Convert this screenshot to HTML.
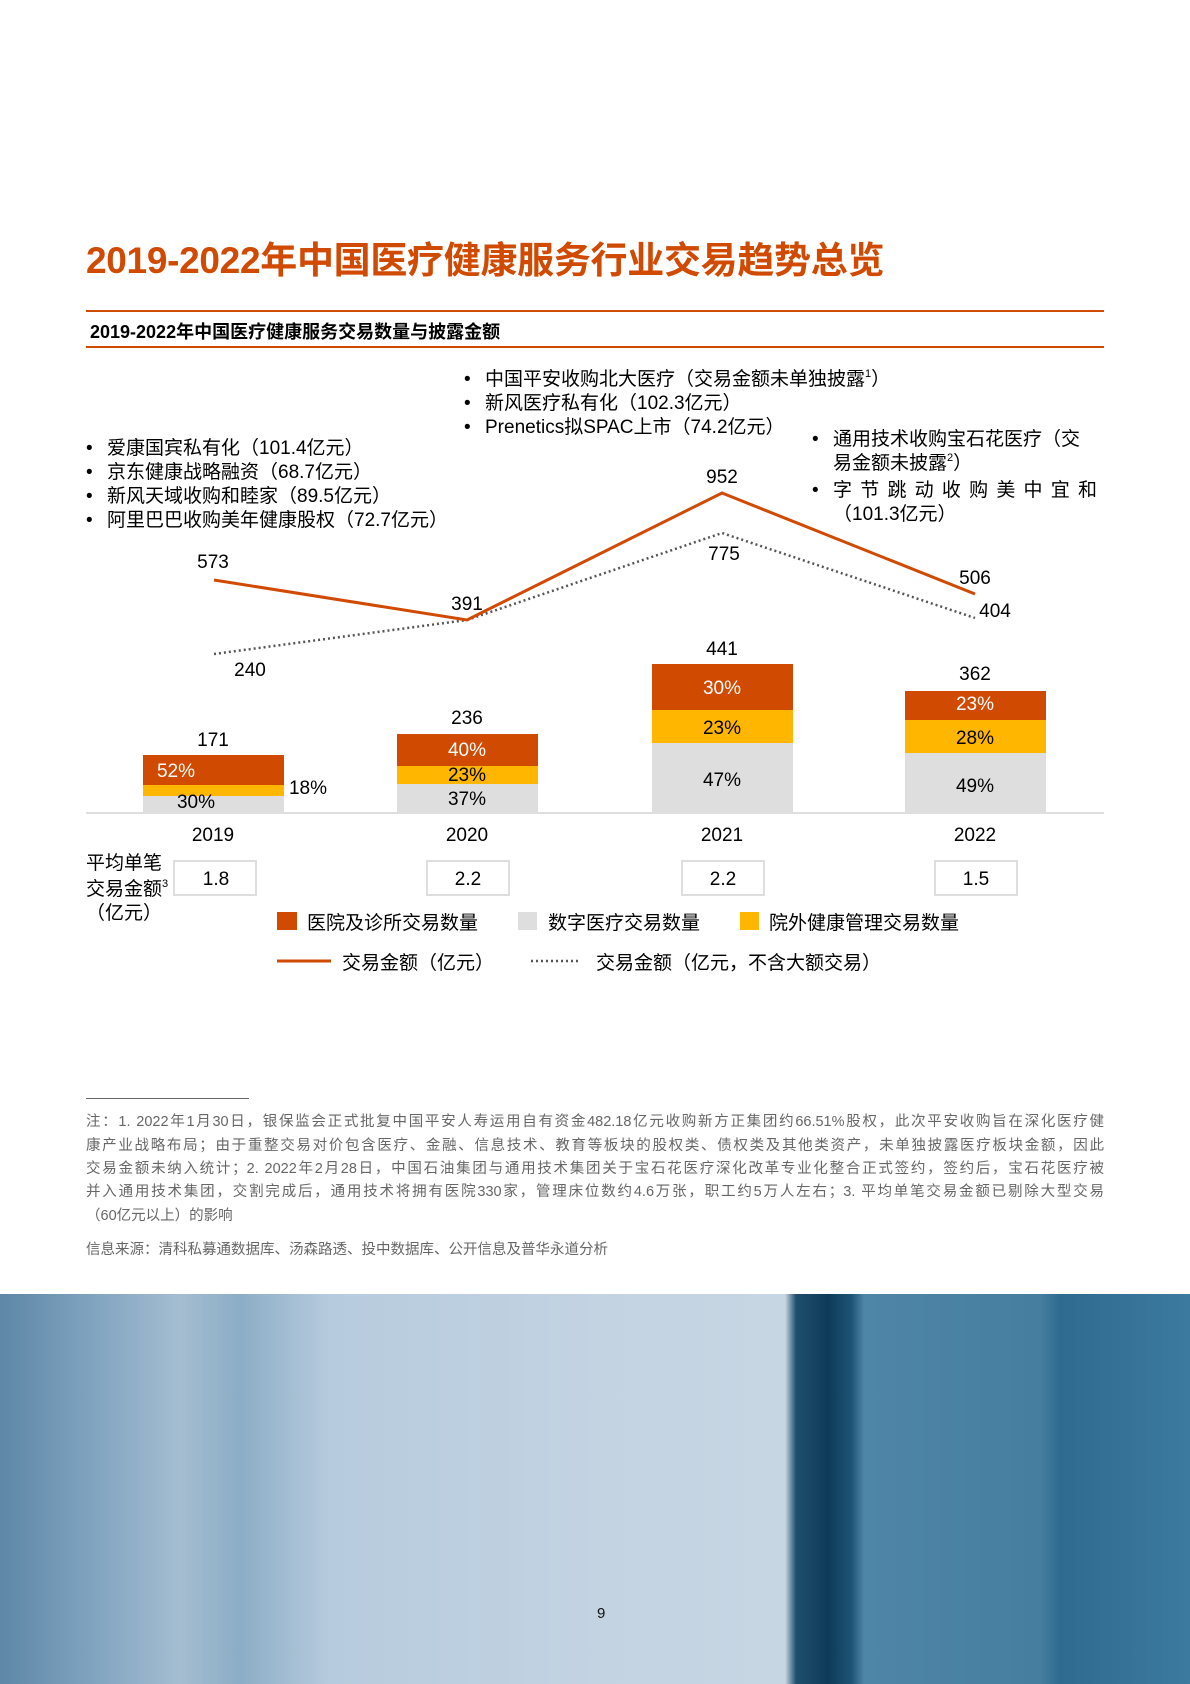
<!DOCTYPE html>
<html><head><meta charset="utf-8"><style>
html,body{margin:0;padding:0}
body{width:1190px;height:1684px;position:relative;background:#fff;overflow:hidden;font-family:"Liberation Sans","Noto Sans CJK SC",sans-serif;color:#000}
.a{position:absolute;white-space:nowrap}
.fn{position:absolute;left:86px;width:1018px;font-size:14.5px;color:#666;text-align:justify;text-align-last:justify;white-space:nowrap;line-height:18px}
.bl{position:absolute;font-size:19px;line-height:24px}
.bl span.d{position:absolute;left:-21px}
.sp{font-size:11px;position:relative;top:-8px;line-height:0}
</style></head><body>
<div class="a" style="left:86px;top:230px;font-size:37px;font-weight:bold;color:#D04A02;letter-spacing:-0.3px">2019-2022年中国医疗健康服务行业交易趋势总览</div>
<div class="a" style="left:86px;top:310px;width:1018px;height:2px;background:#D04A02"></div>
<div class="a" style="left:90px;top:318px;font-size:18px;font-weight:bold">2019-2022年中国医疗健康服务交易数量与披露金额</div>
<div class="a" style="left:86px;top:346px;width:1018px;height:2px;background:#D04A02"></div>

<div class="bl" style="left:107px;top:437px">
<div><span class="d">•</span>爱康国宾私有化（101.4亿元）</div>
<div><span class="d">•</span>京东健康战略融资（68.7亿元）</div>
<div><span class="d">•</span>新风天域收购和睦家（89.5亿元）</div>
<div><span class="d">•</span>阿里巴巴收购美年健康股权（72.7亿元）</div>
</div>
<div class="bl" style="left:485px;top:368px">
<div><span class="d">•</span>中国平安收购北大医疗（交易金额未单独披露<span class="sp">1</span>）</div>
<div><span class="d">•</span>新风医疗私有化（102.3亿元）</div>
<div><span class="d">•</span>Prenetics拟SPAC上市（74.2亿元）</div>
</div>
<div class="bl" style="left:833px;top:428px;width:264px">
<div><span class="d">•</span>通用技术收购宝石花医疗（交</div>
<div>易金额未披露<span class="sp">2</span>）</div>
<div style="text-align:justify;text-align-last:justify;margin-top:3px;position:relative"><span class="d">•</span>字 节 跳 动 收 购 美 中 宜 和</div>
<div>（101.3亿元）</div>
</div>

<svg class="a" style="left:0;top:0" width="1190" height="1000" font-family="Liberation Sans, Noto Sans CJK SC, sans-serif" font-size="19">
<line x1="86" y1="813" x2="1104" y2="813" stroke="#DEDEDE" stroke-width="2"/>
<rect x="143" y="755" width="141" height="30" fill="#D04A02"/><rect x="143" y="785" width="141" height="11" fill="#FFB600"/><rect x="143" y="796" width="141" height="17" fill="#DEDEDE"/>
<rect x="397" y="734" width="141" height="32" fill="#D04A02"/><rect x="397" y="766" width="141" height="18" fill="#FFB600"/><rect x="397" y="784" width="141" height="29" fill="#DEDEDE"/>
<rect x="652" y="664" width="141" height="46" fill="#D04A02"/><rect x="652" y="710" width="141" height="33" fill="#FFB600"/><rect x="652" y="743" width="141" height="70" fill="#DEDEDE"/>
<rect x="905" y="691" width="141" height="29" fill="#D04A02"/><rect x="905" y="720" width="141" height="33" fill="#FFB600"/><rect x="905" y="753" width="141" height="60" fill="#DEDEDE"/>
<polyline points="214,654 467,620 722,533 975,618" fill="none" stroke="#555" stroke-width="2.5" stroke-dasharray="2,3"/>
<polyline points="214,580 467,620 722,493 975,594" fill="none" stroke="#D04A02" stroke-width="3"/>
<g text-anchor="middle">
<text x="213" y="568">573</text><text x="467" y="610">391</text><text x="722" y="483">952</text><text x="975" y="584">506</text>
<text x="250" y="676">240</text><text x="724" y="560">775</text><text x="995" y="617">404</text>
<text x="213" y="746">171</text><text x="467" y="724">236</text><text x="722" y="655">441</text><text x="975" y="680">362</text>
<text x="176" y="777" fill="#fff">52%</text><text x="196" y="808">30%</text><text x="308" y="794">18%</text>
<text x="467" y="756" fill="#fff">40%</text><text x="467" y="781">23%</text><text x="467" y="805">37%</text>
<text x="722" y="694" fill="#fff">30%</text><text x="722" y="734">23%</text><text x="722" y="786">47%</text>
<text x="975" y="710" fill="#fff">23%</text><text x="975" y="744">28%</text><text x="975" y="792">49%</text>
<text x="213" y="841">2019</text><text x="467" y="841">2020</text><text x="722" y="841">2021</text><text x="975" y="841">2022</text>
</g>
<g fill="#fff" stroke="#DEDEDE" stroke-width="2">
<rect x="174" y="861" width="82" height="34"/><rect x="427" y="861" width="82" height="34"/><rect x="682" y="861" width="82" height="34"/><rect x="935" y="861" width="82" height="34"/>
</g>
<g text-anchor="middle"><text x="216" y="885">1.8</text><text x="468" y="885">2.2</text><text x="723" y="885">2.2</text><text x="976" y="885">1.5</text></g>
<text x="86" y="869">平均单笔</text><text x="86" y="895">交易金额<tspan font-size="11" dy="-8">3</tspan></text><text x="86" y="919">（亿元）</text>
<rect x="277" y="912" width="20" height="18" fill="#D04A02"/><text x="307" y="929">医院及诊所交易数量</text>
<rect x="518" y="912" width="19" height="18" fill="#DEDEDE"/><text x="548" y="929">数字医疗交易数量</text>
<rect x="740" y="912" width="19" height="18" fill="#FFB600"/><text x="769" y="929">院外健康管理交易数量</text>
<line x1="277" y1="961" x2="331" y2="961" stroke="#D04A02" stroke-width="3"/><text x="342" y="969">交易金额（亿元）</text>
<line x1="531" y1="961" x2="580" y2="961" stroke="#555" stroke-width="2.5" stroke-dasharray="2,3"/><text x="596" y="969">交易金额（亿元，不含大额交易）</text>
</svg>

<div class="a" style="left:86px;top:1098px;width:163px;height:1px;background:#666"></div>
<div class="fn" style="top:1113px">注：1. 2022年1月30日，银保监会正式批复中国平安人寿运用自有资金482.18亿元收购新方正集团约66.51%股权，此次平安收购旨在深化医疗健</div>
<div class="fn" style="top:1137px">康产业战略布局；由于重整交易对价包含医疗、金融、信息技术、教育等板块的股权类、债权类及其他类资产，未单独披露医疗板块金额，因此</div>
<div class="fn" style="top:1160px">交易金额未纳入统计；2. 2022年2月28日，中国石油集团与通用技术集团关于宝石花医疗深化改革专业化整合正式签约，签约后，宝石花医疗被</div>
<div class="fn" style="top:1183px">并入通用技术集团，交割完成后，通用技术将拥有医院330家，管理床位数约4.6万张，职工约5万人左右；3. 平均单笔交易金额已剔除大型交易</div>
<div class="fn" style="top:1207px;text-align-last:left">（60亿元以上）的影响</div>
<div class="fn" style="top:1241px;text-align-last:left">信息来源：清科私募通数据库、汤森路透、投中数据库、公开信息及普华永道分析</div>

<div class="a" style="left:0;top:1294px;width:1190px;height:390px;background:linear-gradient(90deg,#5d87a6 0px,#7fa3bf 90px,#a4bdd1 180px,#8cadc6 240px,#b6cbdd 330px,#c3d3e2 600px,#c7d6e3 785px,#1f4f6e 796px,#0e3a58 828px,#1f5577 852px,#4f86a8 864px,#467e9f 1040px,#2f6a90 1060px,#3d7aa0 1190px)"></div>
<div class="a" style="left:597px;top:1605px;font-size:15px;color:#111">9</div>
</body></html>
